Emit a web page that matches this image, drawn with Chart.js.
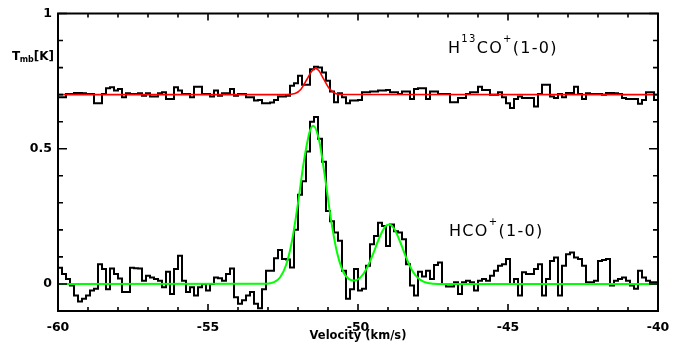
<!DOCTYPE html>
<html><head><meta charset="utf-8">
<script src="https://cdn.jsdelivr.net/npm/chart.js@4"></script>
<style>html,body{margin:0;padding:0;background:#fff}canvas{display:block}</style>
</head><body>
<canvas id="c" width="683" height="352"></canvas>
<script>
// ---- data ----
const vStart = -60, vEnd = -40;
const hcoValues = [
 0.06,0.037,0.018,-0.006,-0.043,-0.065,-0.055,-0.043,-0.024,-0.018,
 0.073,0.055,-0.02,0.057,0.037,0.02,-0.03,-0.03,0.06,0.058,
 0.057,0.012,0.03,0.024,0.018,0.012,-0.012,0.045,-0.037,0.055,
 0.104,0.012,-0.03,-0.012,-0.043,-0.012,0,-0.024,0,0.024,
 0.021,0.012,0.037,0.057,-0.049,-0.073,-0.06,-0.043,-0.03,-0.073,
 -0.09,-0.02,0.049,0.049,0.095,0.126,0.092,0.09,0.061,0.2,
 0.33,0.38,0.49,0.6,0.617,0.537,0.452,0.27,0.232,0.19,
 0.16,0.049,-0.055,-0.02,0.055,-0.024,-0.018,0.067,0.147,0.177,
 0.226,0.214,0.14,0.22,0.195,0.19,0.165,0.073,-0.006,-0.043,
 0.045,0.028,0.049,0.018,0.07,0.079,0,-0.009,-0.009,0.006,
 -0.037,0.006,0.012,0.006,-0.024,0.012,0.018,0.012,0.03,0.049,
 0.067,0.073,0.092,0,0.018,-0.043,0.043,0.037,0.037,0.055,
 0.073,-0.043,0.018,0.085,0.098,-0.043,0.067,0.11,0.116,0.098,
 0.092,0.067,0.006,0.006,0.012,0.085,0.089,0.092,-0.006,0.012,
 0.018,0.024,0.012,-0.006,-0.018,0.049,0.024,0.012,0.006,0.006
];
const h13coValues = [
 0.690,0.690,0.702,0.702,0.706,0.706,0.705,0.702,0.702,0.668,
 0.668,0.702,0.724,0.727,0.715,0.721,0.690,0.705,0.702,0.702,
 0.705,0.696,0.705,0.693,0.693,0.705,0.709,0.684,0.684,0.727,
 0.715,0.702,0.702,0.690,0.729,0.729,0.702,0.702,0.693,0.715,
 0.696,0.705,0.705,0.721,0.696,0.702,0.702,0.690,0.690,0.678,
 0.680,0.668,0.668,0.671,0.680,0.693,0.693,0.696,0.733,0.742,
 0.770,0.737,0.737,0.794,0.803,0.800,0.782,0.751,0.712,0.672,
 0.705,0.690,0.668,0.678,0.678,0.680,0.709,0.709,0.712,0.712,
 0.715,0.715,0.717,0.709,0.709,0.702,0.712,0.712,0.684,0.721,
 0.724,0.724,0.684,0.712,0.712,0.702,0.702,0.702,0.672,0.672,
 0.688,0.688,0.702,0.709,0.709,0.729,0.717,0.717,0.700,0.700,
 0.709,0.690,0.668,0.651,0.684,0.693,0.688,0.688,0.688,0.656,
 0.702,0.737,0.737,0.693,0.688,0.702,0.690,0.706,0.706,0.729,
 0.702,0.684,0.705,0.702,0.702,0.702,0.700,0.706,0.706,0.705,
 0.702,0.688,0.684,0.684,0.684,0.666,0.680,0.709,0.709,0.680
];
const hcoFitVel = [-60,-53.2,-52.8,-52.6,-52.4,-52.2,-52.0,-51.8,-51.6,-51.49,-51.3,-51.1,-50.9,-50.7,-50.5,-50.3,-50.1,-49.9,-49.7,-49.5,-49.3,-49.1,-48.97,-48.8,-48.6,-48.4,-48.2,-48.0,-47.8,-47.5,-47.1,-40];
const hcoFitValues = [0,0.0003,0.007,0.024,0.069,0.159,0.299,0.456,0.567,0.585,0.533,0.395,0.238,0.117,0.047,0.018,0.013,0.026,0.059,0.110,0.168,0.211,0.220,0.205,0.157,0.099,0.051,0.022,0.0075,0.001,0,0];
const h13coFitVel = [-60,-52.4,-52.1,-51.9,-51.7,-51.55,-51.42,-51.3,-51.15,-50.95,-50.75,-50.5,-40];
const h13coFitValues = [0.7,0.7001,0.704,0.720,0.757,0.786,0.797,0.788,0.759,0.7214,0.7045,0.7003,0.7];

const xTickValues = [-60,-55,-50,-45,-40];
const xTickLabels = ['-60','-55','-50','-45','-40'];
const yTickValues = [0,0.5,1];
const yTickLabels = ['0','0.5','1'];
const xTitle = 'Velocity (km/s)';
const yTitleParts = ['T','mb','[K]'];
const h13coLabelParts = ['H','13','CO','+','(1-0)'];
const hcoLabelParts = ['HCO','+','(1-0)'];

// ---- build datasets ----
function histPoints(vals){
  const w = (vEnd - vStart) / vals.length;
  const pts = vals.map((v,i)=>({x: vStart + i*w, y: v}));
  pts.push({x: vEnd, y: vals[vals.length-1]});
  return pts;
}
function pairPoints(xs, ys){ return xs.map((x,i)=>({x, y: ys[i]})); }

const FONT = '"DejaVu Sans", "Liberation Sans", sans-serif';

const decor = {
  id: 'decor',
  afterDatasetsDraw(chart){
    const {ctx, chartArea: a, scales: {x, y}} = chart;
    ctx.save();
    ctx.strokeStyle = '#000';
    ctx.lineWidth = 1.6;
    ctx.beginPath();
    for (let v = vStart; v <= vEnd; v += 1){
      const px = x.getPixelForValue(v);
      const len = (v % 5 === 0) ? 7 : 4;
      ctx.moveTo(px, a.bottom); ctx.lineTo(px, a.bottom - len);
      ctx.moveTo(px, a.top); ctx.lineTo(px, a.top + len);
    }
    for (let i = 0; i <= 10; i++){
      const v = i/10;
      const py = y.getPixelForValue(v);
      const len = (i % 5 === 0) ? 9 : 5;
      ctx.moveTo(a.left, py); ctx.lineTo(a.left + len, py);
      ctx.moveTo(a.right, py); ctx.lineTo(a.right - len, py);
    }
    ctx.stroke();
    ctx.lineWidth = 2;
    ctx.strokeRect(a.left, a.top, a.right - a.left, a.bottom - a.top);

    ctx.fillStyle = '#000';
    ctx.textBaseline = 'alphabetic';
    ctx.textAlign = 'left';
    // y title
    let cx = 12;
    ctx.font = 'bold 12px ' + FONT;
    ctx.fillText(yTitleParts[0], cx, 60); cx += ctx.measureText(yTitleParts[0]).width - 0.5;
    ctx.font = 'bold 8px ' + FONT;
    ctx.fillText(yTitleParts[1], cx, 62); cx += ctx.measureText(yTitleParts[1]).width;
    ctx.font = 'bold 12px ' + FONT;
    ctx.fillText(yTitleParts[2], cx, 60);

    // line labels
    function rich(x0, base, parts, sup){
      let px = x0;
      ctx.letterSpacing = '1.3px';
      parts.forEach((t, i) => {
        const isSup = sup.includes(i);
        ctx.font = (isSup ? '10px ' : '16px ') + FONT;
        ctx.fillText(t, px, base + (isSup ? -11 : 0));
        px += ctx.measureText(t).width;
      });
      ctx.letterSpacing = '0px';
    }
    rich(448, 53, h13coLabelParts, [1,3]);
    rich(449, 236, hcoLabelParts, [1]);
    ctx.restore();
  }
};

new Chart(document.getElementById('c'), {
  type: 'line',
  data: {
    datasets: [
      {data: pairPoints(hcoFitVel, hcoFitValues), borderColor: '#00ff00', borderWidth: 2, pointRadius: 0, cubicInterpolationMode: 'monotone', order: 0},
      {data: pairPoints(h13coFitVel, h13coFitValues), borderColor: '#ff0000', borderWidth: 1.6, pointRadius: 0, cubicInterpolationMode: 'monotone', order: 0},
      {data: histPoints(hcoValues), borderColor: '#000', borderWidth: 2, pointRadius: 0, stepped: true, order: 1},
      {data: histPoints(h13coValues), borderColor: '#000', borderWidth: 2, pointRadius: 0, stepped: true, order: 1}
    ]
  },
  options: {
    responsive: false,
    animation: false,
    devicePixelRatio: 1,
    layout: {padding: {top: 13, right: 25, left: 0, bottom: 0}},
    plugins: {legend: {display: false}, tooltip: {enabled: false}},
    scales: {
      x: {
        type: 'linear', min: vStart, max: vEnd,
        afterBuildTicks: s => { s.ticks = xTickValues.map(v => ({value: v})); },
        afterFit: s => { s.height = 41; },
        grid: {display: false, drawTicks: false},
        border: {display: false},
        ticks: {
          autoSkip: false, maxRotation: 0, padding: 9, color: '#000',
          font: {family: FONT, size: 12.5, weight: 'bold'},
          callback: (v, i) => xTickLabels[i]
        },
        title: {display: true, text: xTitle, color: '#000', font: {family: FONT, size: 11.5, weight: 'bold'}, padding: {top: 0, bottom: 9}}
      },
      y: {
        type: 'linear', min: -0.1, max: 1,
        afterBuildTicks: s => { s.ticks = yTickValues.map(v => ({value: v})); },
        afterFit: s => { s.width = 58; },
        grid: {display: false, drawTicks: false},
        border: {display: false},
        ticks: {
          padding: 6, color: '#000',
          font: {family: FONT, size: 12.5, weight: 'bold'},
          callback: (v, i) => yTickLabels[i]
        }
      }
    }
  },
  plugins: [decor]
});
</script>
</body></html>
